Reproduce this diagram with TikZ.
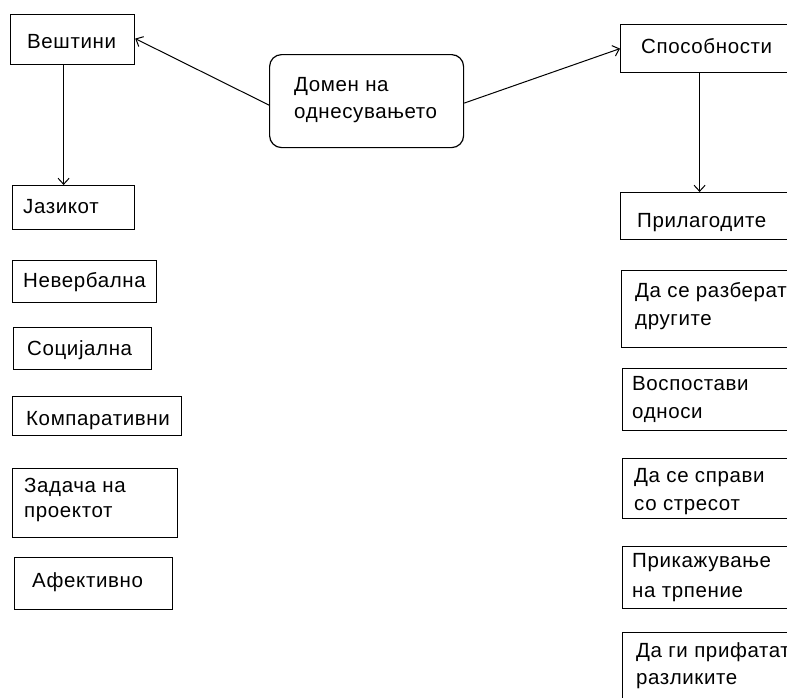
\documentclass[tikz,border=0pt]{standalone}
\usepackage{fontspec}
\setmainfont[LetterSpace=3]{Liberation Sans}
\usetikzlibrary{arrows.meta}
\begin{document}
\begin{tikzpicture}[x=1pt,y=-1pt,
  box/.style={draw=black,line width=1.2pt,rectangle,inner sep=0pt,anchor=north west},
  dombox/.style={draw=black,line width=1.2pt,rectangle,rounded corners=12pt,inner sep=0pt,anchor=north west},
  txt/.style={anchor=base west,inner sep=0pt,font=\fontsize{20.5}{24}\selectfont},
  conn/.style={line width=1pt,-{Straight Barb[length=6pt,width=11pt,line width=1pt]}}]
\useasboundingbox (0,0) rectangle (787,697);
\clip (0,0) rectangle (787,697);
\fill[white] (0,0) rectangle (787,697);
% left column
\node[box,minimum width=124pt,minimum height=50pt] (vesh) at (10,14) {};
\node[txt] (tvesh) at (27,48) {Вештини};
\node[box,minimum width=122pt,minimum height=44pt] (jaz) at (12,185) {};
\node[txt] (tjaz) at (23,213) {Јазикот};
\node[box,minimum width=144pt,minimum height=42pt] (nev) at (12,260) {};
\node[txt] (tnev) at (23,287) {Невербална};
\node[box,minimum width=138pt,minimum height=42pt] (soc) at (13,327) {};
\node[txt] (tsoc) at (27,355) {Социјална};
\node[box,minimum width=169pt,minimum height=39pt] (komp) at (12,396) {};
\node[txt] (tkomp) at (26,425) {Компаративни};
\node[box,minimum width=165pt,minimum height=69pt] (zad) at (12,468) {};
\node[txt] (tzad1) at (24,492) {Задача на};
\node[txt] (tzad2) at (24,517) {проектот};
\node[box,minimum width=158pt,minimum height=52pt] (afek) at (14,557) {};
\node[txt] (tafek) at (32,587) {Афективно};
% centre
\node[dombox,minimum width=194pt,minimum height=93pt] (dom) at (269,54) {};
\node[txt] (tdom1) at (294,91) {Домен на};
\node[txt] (tdom2) at (294,118) {однесувањето};
% right column
\node[box,minimum width=180pt,minimum height=48pt] (spos) at (620,24) {};
\node[txt] (tspos) at (641,53) {Способности};
\node[box,minimum width=180pt,minimum height=47pt] (pril) at (620,192) {};
\node[txt] (tpril) at (637,227) {Прилагодите};
\node[box,minimum width=180pt,minimum height=77pt] (razb) at (621,270) {};
\node[txt] (trazb1) at (635,297) {Да се разберат};
\node[txt] (trazb2) at (635,325) {другите};
\node[box,minimum width=180pt,minimum height=62pt] (vosp) at (622,368) {};
\node[txt] (tvosp1) at (632,390) {Воспостави};
\node[txt] (tvosp2) at (632,418) {односи};
\node[box,minimum width=180pt,minimum height=60pt] (spra) at (622,458) {};
\node[txt] (tspra1) at (634,482) {Да се справи};
\node[txt] (tspra2) at (634,510) {со стресот};
\node[box,minimum width=180pt,minimum height=62pt] (prik) at (622,546) {};
\node[txt] (tprik1) at (632,567) {Прикажување};
\node[txt] (tprik2) at (632,597) {на трпение};
\node[box,minimum width=180pt,minimum height=80pt] (prif) at (622,632) {};
\node[txt] (tprif1) at (636,657) {Да ги прифатат};
\node[txt] (tprif2) at (636,684) {разликите};
% connectors
\draw[conn] ([yshift=-4pt]dom.west) -- ([yshift=1pt]vesh.east);
\draw[conn] ([yshift=-2pt]dom.east) -- (spos.west);
\draw[conn] ([xshift=-9pt]vesh.south) -- ([xshift=-10pt]jaz.north);
\draw[conn] ([xshift=-11pt]spos.south) -- ([xshift=-11pt]pril.north);
\end{tikzpicture}
\end{document}
